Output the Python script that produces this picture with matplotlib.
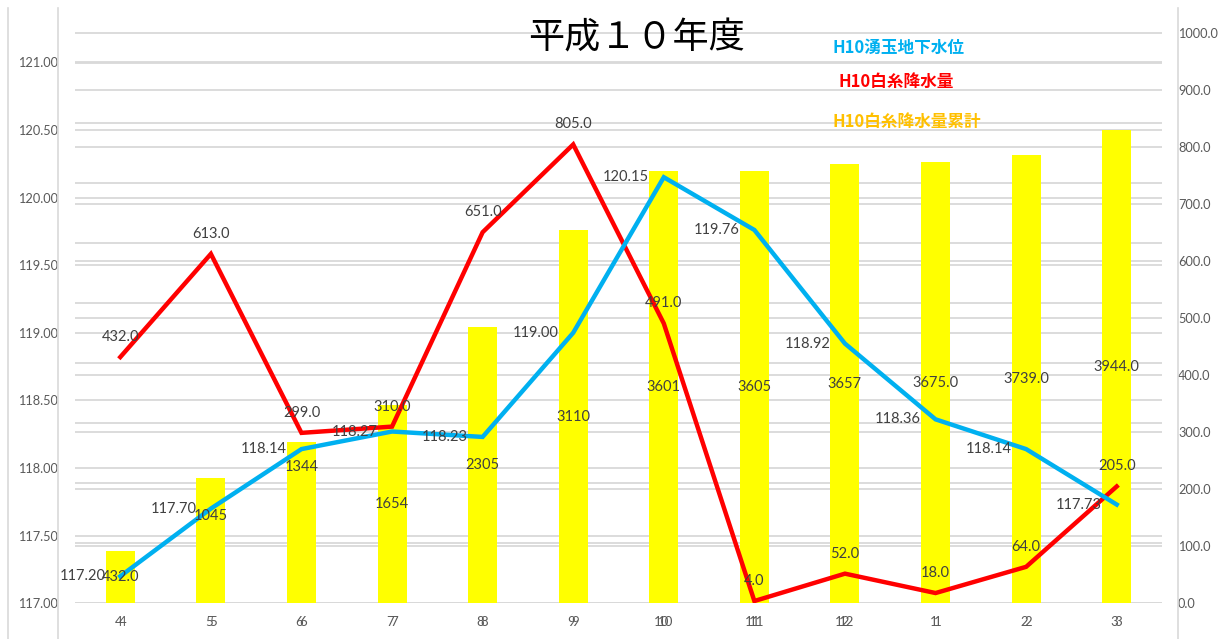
import matplotlib
matplotlib.use("Agg")
import matplotlib.pyplot as plt
from matplotlib.lines import Line2D
from matplotlib.transforms import blended_transform_factory, offset_copy

# Data
months = ["4", "5", "6", "7", "8", "9", "10", "11", "12", "1", "2", "3"]
level = [117.20, 117.70, 118.14, 118.27, 118.23, 119.00, 120.15, 119.76, 118.92, 118.36, 118.14, 117.73]
rain = [432.0, 613.0, 299.0, 310.0, 651.0, 805.0, 491.0, 4.0, 52.0, 18.0, 64.0, 205.0]
cum_rain = [432, 1045, 1344, 1654, 2305, 3110, 3601, 3605, 3657, 3675, 3739, 3944]
cum_labels = ["432.0", "1045", "1344", "1654", "2305", "3110", "3601", "3605", "3657",
              "3675.0", "3739.0", "3944.0"]

left_ticks = [117.0, 117.5, 118.0, 118.5, 119.0, 119.5, 120.0, 120.5, 121.0]
right_ticks = [0, 100, 200, 300, 400, 500, 600, 700, 800, 900, 1000]
cum_grid = [500, 1000, 1500, 2000, 2500, 3000, 3500, 4000, 4500]

BLUE = "#00B0F0"
RED = "#FF0000"
GOLD = "#FFC000"
GRID = "#D9D9D9"
TXT = "#404040"
TICK = "#595959"
NUM_FONT = "Lato"

W, H = 1230, 639
fig = plt.figure(figsize=(W / 100, H / 100), dpi=100)
rect = [75 / W, 35.7 / H, (1162 - 75) / W, (603.3 - 8) / H]

axB = fig.add_axes(rect)                 # cumulative bars (hidden scale)
axR = fig.add_axes(rect, sharex=axB)     # rainfall
axL = fig.add_axes(rect, sharex=axB)     # groundwater level
for a in (axR, axL):
    a.patch.set_visible(False)
for a in (axB, axR, axL):
    for s in a.spines.values():
        s.set_visible(False)

x = list(range(len(months)))
axB.set_xlim(-0.5, len(months) - 0.5)
axB.set_ylim(0, 4961)
axL.set_ylim(117, 121.401)
axR.set_ylim(0, 1044.4)

# grids, all drawn in the bottom axes so they stay behind the bars
for ticks, src in ((left_ticks, axL), (right_ticks, axR), (cum_grid, axB)):
    tr = blended_transform_factory(axB.transAxes, src.transData)
    for v in ticks:
        axB.plot([0, 1], [v, v], color=GRID, lw=1.3, transform=tr, zorder=0,
                 solid_capstyle="butt")

axB.bar(x, cum_rain, width=0.32, color="#FFFF00", zorder=2)
axR.plot(x, rain, color=RED, lw=3.2, solid_joinstyle="miter", zorder=3)
axL.plot(x, level, color=BLUE, lw=3.2, solid_joinstyle="miter", zorder=3)

# ticks
axB.set_yticks([])
axB.tick_params(axis="x", length=0, labelbottom=False)
axR.tick_params(axis="x", bottom=False, labelbottom=False)
axL.tick_params(axis="x", bottom=False, labelbottom=False)
axL.set_yticks(left_ticks)
axL.set_yticklabels([f"{v:.2f}" for v in left_ticks])
axL.tick_params(axis="y", length=0, pad=12.5, labelsize=9.2, labelcolor=TICK)
axR.yaxis.tick_right()
axR.set_yticks(right_ticks)
axR.set_yticklabels([f"{v:.1f}" for v in right_ticks])
axR.tick_params(axis="y", length=0, pad=11.5, labelsize=9.2, labelcolor=TICK)
for lab in axL.get_yticklabels() + axR.get_yticklabels():
    lab.set_fontfamily(NUM_FONT)

# doubled month labels
xtr = blended_transform_factory(axB.transData, axB.transAxes)
for dx in (-2, 2):
    tr = offset_copy(xtr, fig=fig, x=dx, y=-19, units="dots")
    for xi, m in zip(x, months):
        axL.text(xi, 0, m, transform=tr, ha="center", va="center", fontsize=9.5,
                 color=TICK, family=NUM_FONT)

# data labels
lab_kw = dict(fontsize=10.5, color=TXT, family=NUM_FONT, zorder=10,
              textcoords="offset points", annotation_clip=False)
for xi, v in zip(x, level):
    axL.annotate(f"{v:.2f}", (xi, v), xycoords=axL.transData, xytext=(-10.5, 0),
                 ha="right", va="center", **lab_kw)
for xi, v in zip(x, rain):
    axL.annotate(f"{v:.1f}", (xi, v), xycoords=axR.transData, xytext=(0, 14.4),
                 ha="center", va="center", **lab_kw)
label_frac = {1: 0.70, 2: 0.845}
for i, (xi, v, s) in enumerate(zip(x, cum_rain, cum_labels)):
    axL.annotate(s, (xi, v * label_frac.get(i, 0.5)), xycoords=axB.transData,
                 xytext=(0, 0), ha="center", va="center", **lab_kw)

# outer axis lines
for px in (8, 58, 1178):
    fig.add_artist(Line2D([px / W, px / W], [0, 1 - 8 / H], color=GRID, lw=1.2,
                          transform=fig.transFigure))

# title and text legend
cjk = ["Noto Sans CJK JP", "DejaVu Sans"]
fig.text(636 / W, 1 - 38 / H, "平成１０年度", fontsize=26, ha="center", va="center",
         family=cjk, color="black")
fig.text(833 / W, 1 - 48 / H, "H10湧玉地下水位", fontsize=12, fontweight="bold",
         color=BLUE, ha="left", va="center", family=cjk)
fig.text(838 / W, 1 - 82 / H, "H10白糸降水量", fontsize=12, fontweight="bold",
         color=RED, ha="left", va="center", family=cjk)
fig.text(833 / W, 1 - 122 / H, "H10白糸降水量累計", fontsize=12, fontweight="bold",
         color=GOLD, ha="left", va="center", family=cjk)

fig.savefig("out.png", dpi=100)
